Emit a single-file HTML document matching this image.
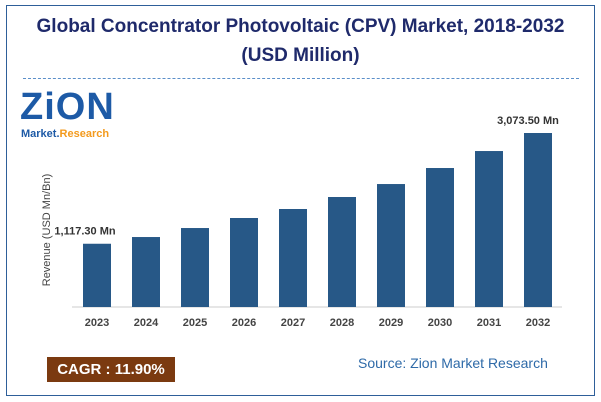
<!DOCTYPE html>
<html><head><meta charset="utf-8"><style>
body{margin:0;width:601px;height:402px;background:#fff;font-family:"Liberation Sans",sans-serif;overflow:hidden}
#frame{position:absolute;left:6px;top:5px;width:587px;height:389px;border:1px solid #2e5f99}
.t{position:absolute;left:0;width:601px;text-align:center;color:#1f2a6b;font-weight:bold;font-size:19px}
</style></head><body>
<div id="frame"></div>
<div class="t" style="top:16px">Global Concentrator Photovoltaic (CPV) Market, 2018-2032</div>
<div class="t" style="top:45px">(USD Million)</div>
<div style="position:absolute;left:23px;top:78px;width:556px;border-top:1px dashed #5b8fc9"></div>
<div style="position:absolute;left:20px;top:86px;font-weight:bold;font-size:38px;color:#1d5aa6;letter-spacing:1px">ZiON</div>
<div style="position:absolute;left:21px;top:128px;font-weight:bold;font-size:11px;color:#1d5aa6">Market.<span style="color:#f39a1d">Research</span></div>
<svg width="601" height="402" style="position:absolute;left:0;top:0" id="chart">
<text x="50" y="230" transform="rotate(-90 50 230)" text-anchor="middle" font-size="11" fill="#444">Revenue (USD Mn/Bn)</text>
<line x1="72" y1="307" x2="562" y2="307" stroke="#ccc"/>
</svg>
<div style="position:absolute;left:47px;top:357px;width:128px;height:25px;background:#7b3a10;color:#fff;font-weight:bold;font-size:15px;line-height:25px;text-align:center">CAGR : 11.90%</div>
<div style="position:absolute;left:358px;top:355px;color:#2e6aa8;font-size:14px">Source: Zion Market Research</div>
<script>
const years=["2023","2024","2025","2026","2027","2028","2029","2030","2031","2032"];
const values=[1117.3,1236,1395,1572,1731,1943,2172,2455,2755,3073.5];
const labels=["1,117.30 Mn","","","","","","","","","3,073.50 Mn"];
const svg=document.getElementById('chart');const NS="http://www.w3.org/2000/svg";
const base=307,x0=97,step=49,scale=174/3073.5;
const yS=v=>base-v*scale, xS=i=>x0+i*step;
values.forEach((v,i)=>{
 const r=document.createElementNS(NS,'rect');
 r.setAttribute('x',xS(i)-14);r.setAttribute('y',yS(v));r.setAttribute('width',28);r.setAttribute('height',base-yS(v));r.setAttribute('fill','#275887');
 
 
 svg.appendChild(r);
 const t=document.createElementNS(NS,'text');
 t.setAttribute('x',xS(i));t.setAttribute('y',326);t.setAttribute('text-anchor','middle');t.setAttribute('font-size','11');t.setAttribute('font-weight','bold');t.setAttribute('fill','#444');t.textContent=years[i];
 
 
 svg.appendChild(t);
 if(labels[i]){const l=document.createElementNS(NS,'text');
 l.setAttribute('x',i==0?xS(i)-12:xS(i)-10);l.setAttribute('y',yS(v)-9);l.setAttribute('text-anchor','middle');l.setAttribute('font-size','11');l.setAttribute('font-weight','bold');l.setAttribute('fill','#333');l.textContent=labels[i];
 
 
 svg.appendChild(l);}
});
</script>
</body></html>
